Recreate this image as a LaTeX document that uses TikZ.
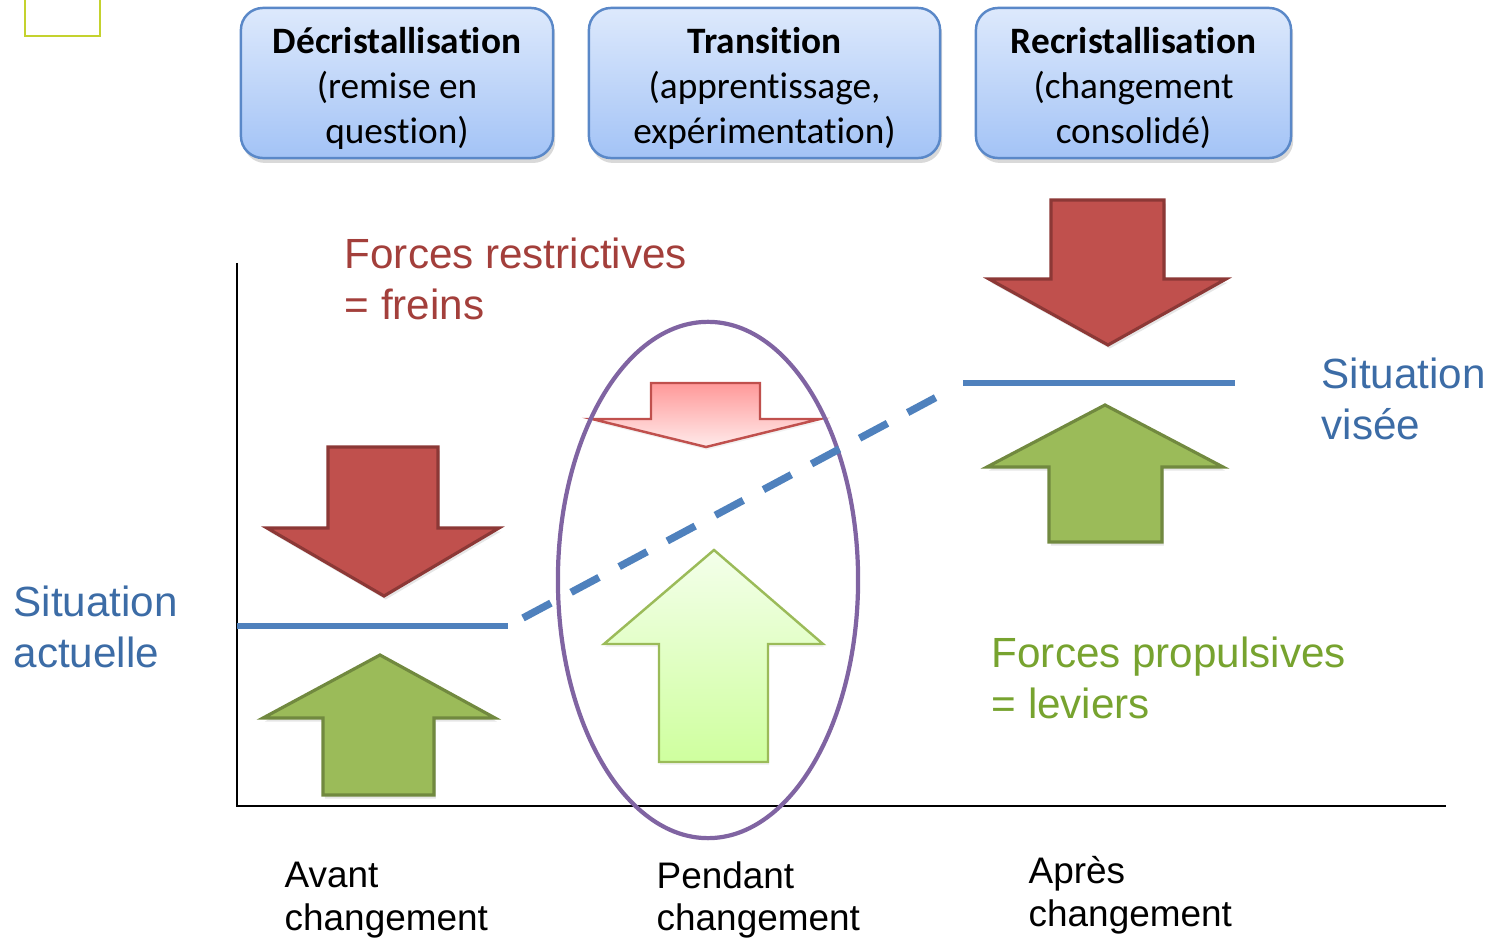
\documentclass[tikz,border=0pt]{standalone}
\usepackage{fontspec}
\setmainfont{Liberation Sans}
\newfontfamily\boxfont[Ligatures=NoCommon]{Carlito}
\usetikzlibrary{shadows,shapes.geometric}

\definecolor{boxtop}{HTML}{DDE9FC}
\definecolor{boxbot}{HTML}{A3C3F6}
\definecolor{boxline}{HTML}{5A88C8}
\definecolor{freinfill}{HTML}{C0504D}
\definecolor{freinline}{HTML}{8C3836}
\definecolor{levierfill}{HTML}{9BBB59}
\definecolor{levierline}{HTML}{71893F}
\definecolor{lineblue}{HTML}{4F81BD}
\definecolor{ovalline}{HTML}{8064A2}
\definecolor{txtred}{HTML}{A33F3B}
\definecolor{txtblue}{HTML}{3C6CA6}
\definecolor{txtgreen}{HTML}{77A32F}
\definecolor{cornerline}{HTML}{C4D22E}

\begin{document}
\begin{tikzpicture}[x=0.01cm, y=-0.01cm,
    phase/.style={draw=boxline, line width=0.7pt, rounded corners=0.22cm,
      top color=boxtop, bottom color=boxbot,
      minimum height=1.5cm, inner sep=0pt,
      drop shadow={opacity=0.3, shadow xshift=0.6pt, shadow yshift=-1.4pt}},
    phasetext/.style={align=center, inner sep=0pt, yshift=-0.05cm,
      font=\boxfont\fontsize{10.6}{12.8}\selectfont},
    frein/.style={draw=freinline, fill=freinfill, line width=0.9pt,
      drop shadow={opacity=0.2, shadow xshift=0.5pt, shadow yshift=-1pt}},
    levier/.style={draw=levierline, fill=levierfill, line width=0.9pt,
      drop shadow={opacity=0.2, shadow xshift=0.5pt, shadow yshift=-1pt}},
    niveau/.style={draw=lineblue, line width=1.9pt},
    legend/.style={anchor=west, align=left, inner sep=0pt,
      font=\fontsize{12}{14.5}\selectfont},
    moment/.style={anchor=west, align=left, inner sep=0pt,
      font=\fontsize{10.5}{12.2}\selectfont}]
    \useasboundingbox (0,0) rectangle (1490,940);

    % small frame in the corner
    \draw[cornerline, line width=0.5pt] (25,0) -- (25,36) -- (100,36) -- (100,0);

    % phases
    \node[phase, minimum width=3.12cm,
      label={[phasetext]center:{\textbf{Décristallisation}\\(remise en\\question)}}]
      (decri) at (397,83) {};
    \node[phase, minimum width=3.51cm,
      label={[phasetext]center:{\textbf{Transition}\\(apprentissage,\\expérimentation)}}]
      (trans) at (764.5,83) {};
    \node[phase, minimum width=3.15cm,
      label={[phasetext]center:{\textbf{Recristallisation}\\(changement\\consolidé)}}]
      (recri) at (1133.5,83) {};

    % axes
    \coordinate (ytop) at (237,263);
    \coordinate (O) at (237,806);
    \coordinate (xend) at (1446,806);
    \draw[line width=0.6pt] (ytop) -- (O) -- (xend);

    % avant
    \path[frein] (328,447) -- (438,447) -- (438,528) -- (499,528) -- (384,596)
      -- (267,528) -- (328,528) -- cycle;
    \path[levier] (323,795) -- (434,795) -- (434,718) -- (495,718) -- (380,655)
      -- (263,718) -- (323,718) -- cycle;

    % pendant
    \path[draw=freinfill, line width=0.7pt, top color=red!40, bottom color=red!8,
      drop shadow={opacity=0.1, shadow xshift=0.3pt, shadow yshift=-0.8pt}]
      (651,383) -- (760,383) -- (760,419) -- (820,419) -- (706,447)
      -- (592,419) -- (651,419) -- cycle;
    \path[draw=levierfill, line width=0.7pt, top color=green!55!yellow!8,
      bottom color=green!50!yellow!38,
      drop shadow={opacity=0.1, shadow xshift=0.3pt, shadow yshift=-0.8pt}]
      (659,762) -- (768,762) -- (768,644) -- (823,644) -- (714,550)
      -- (604,644) -- (659,644) -- cycle;
    \node[draw=ovalline, line width=1.2pt, ellipse, minimum width=3cm,
      minimum height=5.16cm] (pendant) at (708,580) {};

    % apres
    \path[frein] (1051,200) -- (1164,200) -- (1164,279) -- (1226,279) -- (1108,345)
      -- (989,279) -- (1051,279) -- cycle;
    \path[levier] (1049,542) -- (1162,542) -- (1162,467) -- (1223,467) -- (1105,405)
      -- (987,467) -- (1049,467) -- cycle;

    % niveaux
    \coordinate (cur-w) at (237,626);
    \coordinate (cur-e) at (508,626);
    \coordinate (tgt-w) at (963,383);
    \coordinate (tgt-e) at (1235,383);
    \draw[niveau] (cur-w) -- (cur-e);
    \draw[niveau] (tgt-w) -- (tgt-e);
    \draw[niveau, line width=2.1pt, dash pattern=on 9pt off 6.5pt,
      shorten <=0.17cm, shorten >=0.16cm] (cur-e) -- (tgt-w);

    % legends
    \node[legend, txtred] (freins) at (344,279) {Forces restrictives\\= freins};
    \node[legend, txtgreen] (leviers) at (991,678) {Forces propulsives\\= leviers};
    \node[legend, txtblue] (actuelle) at (13,627) {Situation\\actuelle};
    \node[legend, txtblue] (visee) at (1321,399) {Situation\\visée};

    \node[moment] (avant) at (284,900) {Avant\\changement};
    \node[moment] (pendant-txt) at (656,900) {Pendant\\changement};
    \node[moment] (apres) at (1028,895) {Après\\changement};
\end{tikzpicture}
\end{document}
